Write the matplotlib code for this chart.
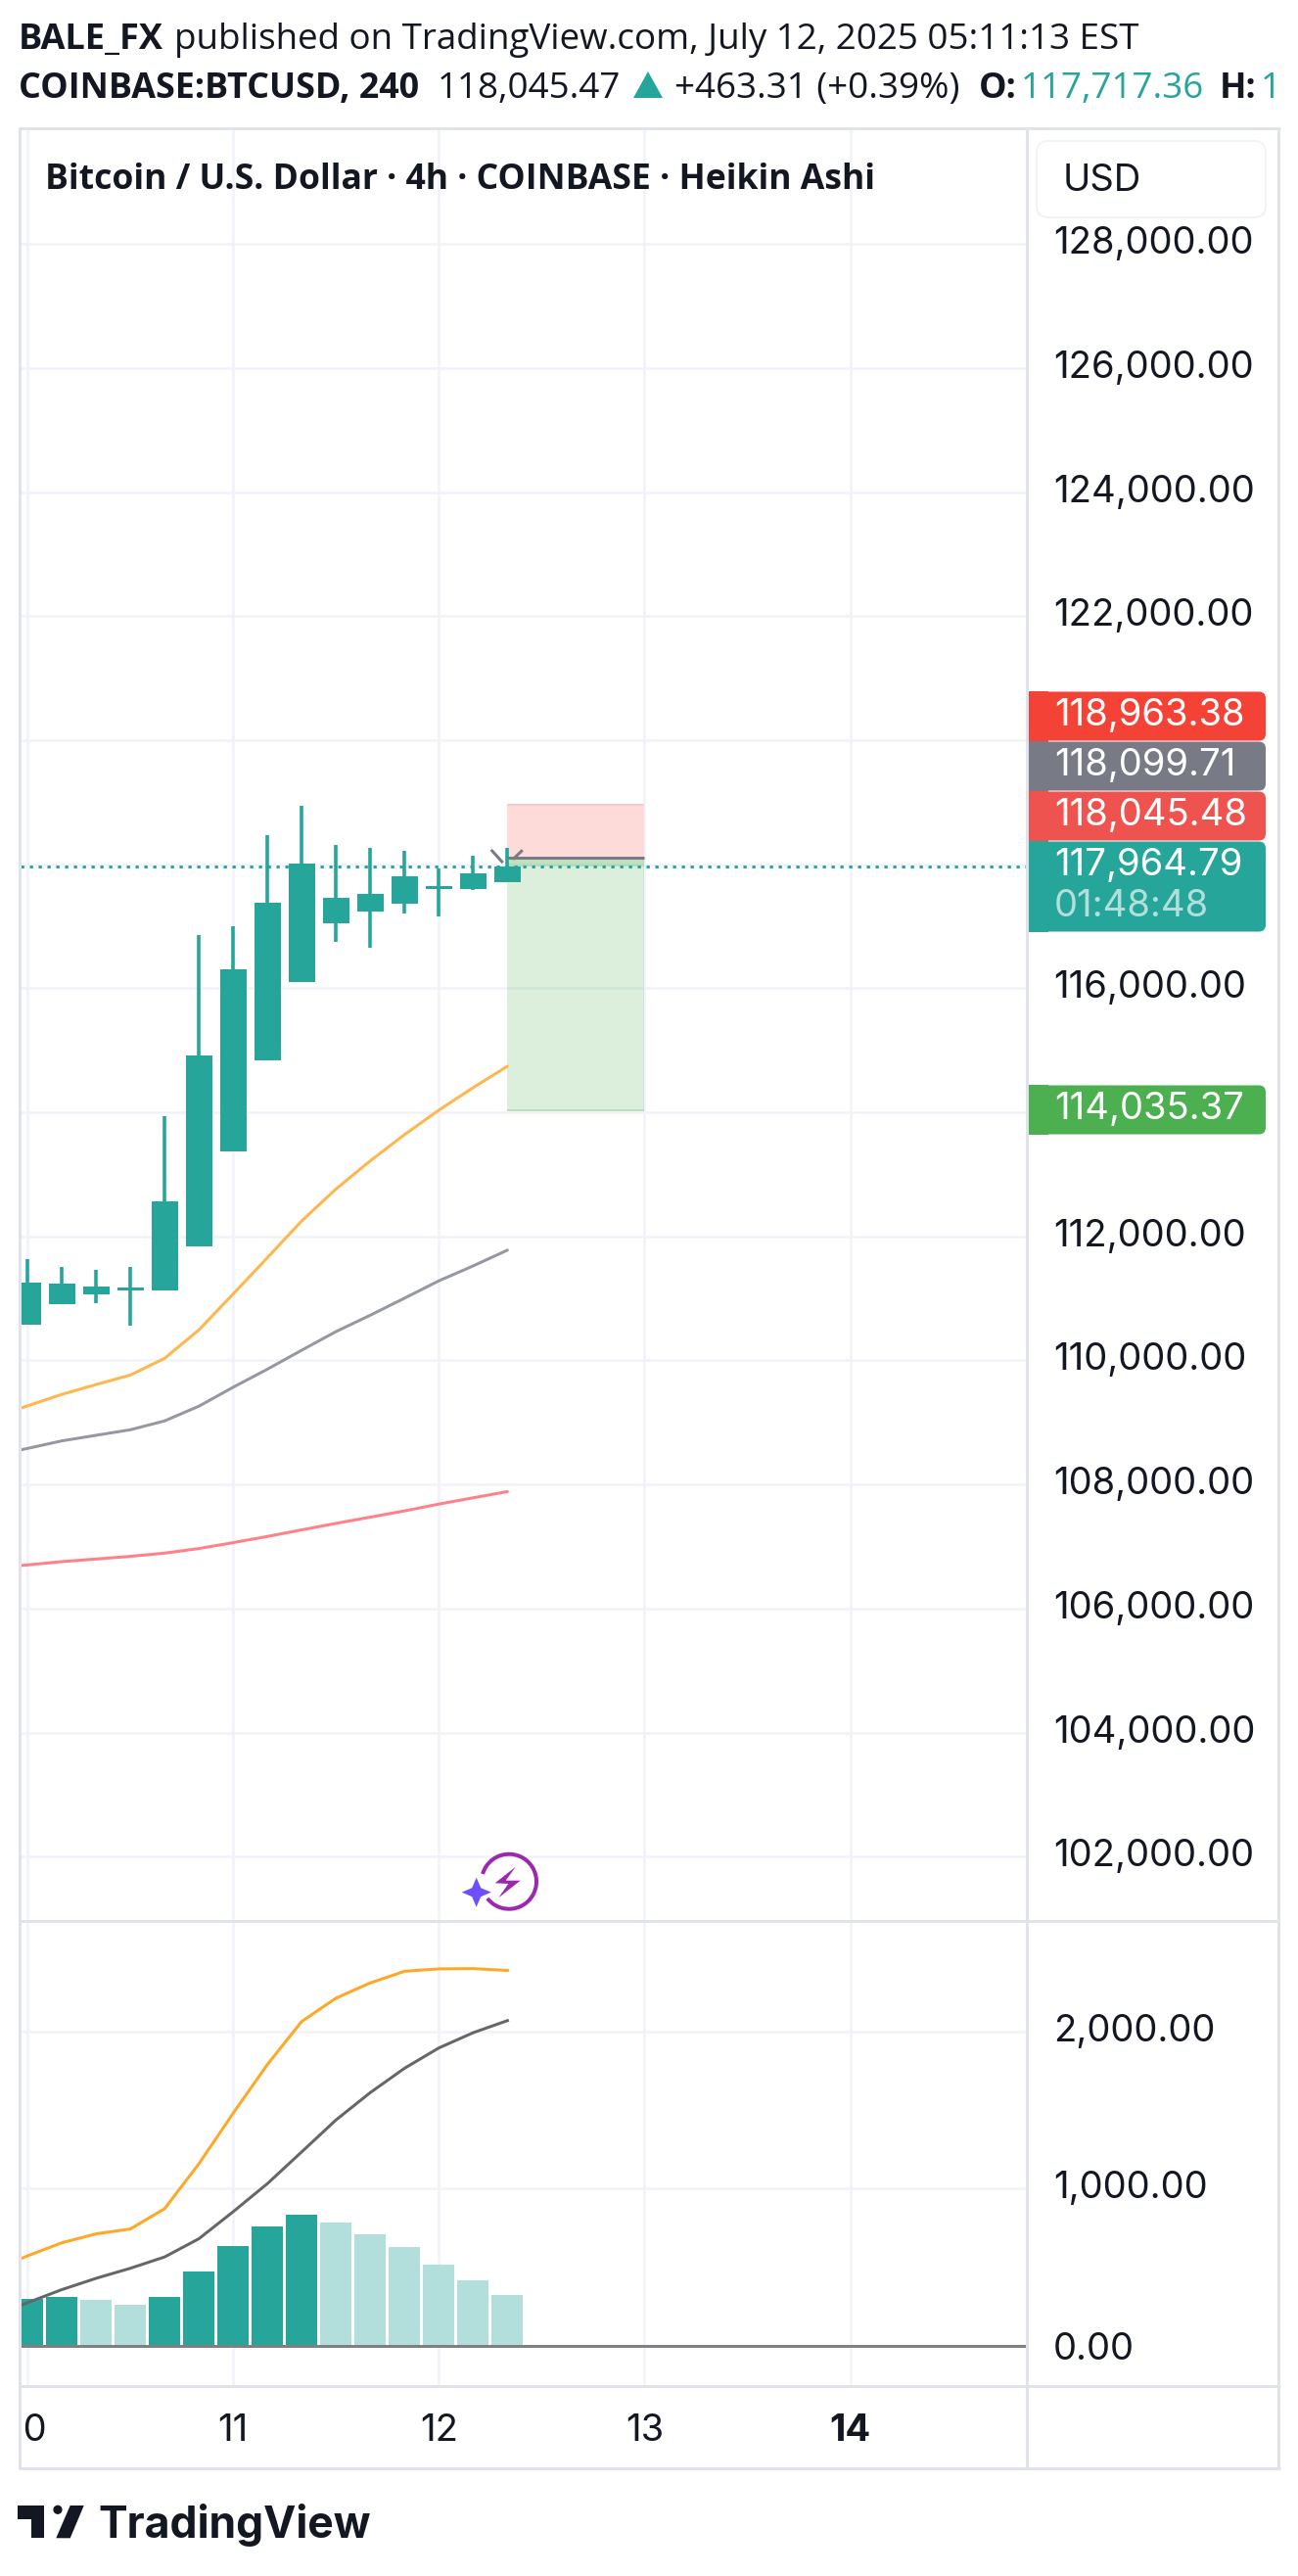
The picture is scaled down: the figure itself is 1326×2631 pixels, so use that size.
import matplotlib
matplotlib.use("Agg")
import matplotlib.pyplot as plt
import numpy as np
from matplotlib.patches import Rectangle, FancyBboxPatch, Polygon, Circle, Arc
from matplotlib.lines import Line2D

W, H = 1326, 2631
UI = "Inter"
HEAD = "Open Sans"

# ---------- data ----------
bar_index = list(range(15))
opens = [110573, 110900, 111063, 111124, 111124, 111838, 113368, 114838, 116103, 117053, 117240, 117367, 117603, 117603, 117717.36]
closes = [111251, 111233, 111190, 111173, 112564, 114917, 116309, 117385, 118003, 117464, 117513, 117809, 117652, 117857, 117964.79]
highs = [111632, 111505, 111456, 111505, 113937, 116865, 117004, 118462, 118934, 118317, 118257, 118220, 117924, 118142, 118269]
lows = [110573, 110900, 110918, 110555, 111124, 111838, 113368, 114838, 116103, 116750, 116659, 117210, 117162, 117591, 117717.36]

ma_index = list(range(-1, 15))
ma_fast = [109082, 109266, 109451, 109610, 109763, 110032, 110491, 111071, 111656, 112249, 112763, 113217, 113640, 114034, 114397, 114742]
ma_mid = [108459, 108580, 108702, 108792, 108881, 109024, 109261, 109567, 109858, 110164, 110464, 110728, 111003, 111282, 111523, 111777]
ma_slow = [106654, 106702, 106755, 106797, 106840, 106892, 106966, 107061, 107161, 107267, 107372, 107472, 107573, 107683, 107784, 107884]

macd_line = [481, 570, 653, 710, 741, 870, 1156, 1478, 1788, 2062, 2210, 2307, 2381, 2396, 2398, 2386]
signal_line = [188, 272, 355, 427, 491, 563, 679, 851, 1030, 1232, 1435, 1609, 1764, 1893, 1990, 2067]
hist_values = [296, 308, 288, 257, 308, 470, 632, 756, 832, 782, 706, 625, 513, 415, 319]
hist_strong = [True, True, False, False, True, True, True, True, True, False, False, False, False, False, False]

stop_price = 118963.38
entry_price = 118099.71
target_price = 114035.37
box_start, box_end = 14, 18

price_ticks = list(range(102000, 130000, 2000))
hidden_price_labels = [114000, 118000, 120000]   # covered by the price tags
macd_ticks = [0, 1000, 2000]
day_ticks = [0, 6, 12, 18, 24]
day_labels = ["10", "11", "12", "13", "14"]

side_labels = [("118,963.38", 706, 757, "#F44336"),
               ("118,099.71", 757, 808, "#787B86"),
               ("118,045.48", 808, 859, "#EF5350"),
               ("114,035.37", 1108, 1159, "#4CAF50")]

TEAL = "#26A69A"
LIGHT = "#B2DFDB"
INK = "#131722"
GRID = "#F0F3FA"
FRAME = "#E0E3EB"
AXIS_PT = 27.5
HEAD_PT = 26.5


def lw(px):
    return px * 72 / 100


fig = plt.figure(figsize=(W / 100, H / 100), dpi=100, facecolor="white")


def make_ax(x0, x1, y0, y1):
    ax = fig.add_axes([x0 / W, 1 - y1 / H, (x1 - x0) / W, (y1 - y0) / H])
    for s in ax.spines.values():
        s.set_visible(False)
    return ax


# pixel mapping of the chart
L, R = 21, 1048
bar0_px, bar_px = 28.1, 35.02
xlim = ((L - bar0_px) / bar_px, (R - bar0_px) / bar_px)

# ---------- price pane ----------
ax = make_ax(L, R, 131, 1961)
scale = 0.06335
ax.set_xlim(*xlim)
ax.set_ylim(116000 - (1961 - 1009.3) / scale, 116000 + (1009.3 - 131) / scale)
ax.set_axisbelow(True)
ax.grid(True, color=GRID, lw=lw(2.5))
ax.set_xticks(day_ticks)
ax.set_yticks(price_ticks)
ax.set_yticklabels(["" if p in hidden_price_labels else f"{p:,.2f}" for p in price_ticks])
ax.tick_params(axis="x", length=0, labelbottom=False)
ax.yaxis.tick_right()
ax.tick_params(axis="y", length=0, pad=lw(28), labelsize=AXIS_PT, labelcolor=INK)
for t in ax.get_yticklabels():
    t.set_family(UI)
    t.set_va("center")

w = box_end - box_start
ax.add_patch(Rectangle((box_start, entry_price), w, stop_price - entry_price, fc="#FCD9D7", ec="none", zorder=1.5, alpha=0.95))
ax.add_patch(Rectangle((box_start, target_price), w, entry_price - target_price, fc="#4CAF50", alpha=0.2, ec="none", zorder=1.5))
ax.add_patch(Rectangle((box_start, closes[-1]), w, entry_price - closes[-1], fc="#4CAF50", alpha=0.2, ec="none", zorder=1.6))
ax.plot([box_start, box_end], [stop_price, stop_price], color="#FBC9C6", lw=lw(2), zorder=1.7, solid_capstyle="butt")
ax.plot([box_start, box_end], [target_price, target_price], color="#B9E0BB", lw=lw(2), zorder=1.7, solid_capstyle="butt")
ax.plot([box_start, box_end], [entry_price, entry_price], color="#787B86", lw=lw(3), zorder=1.8, solid_capstyle="butt")

ax.plot(ma_index, ma_fast, color="#FFB74D", lw=lw(3), zorder=2, solid_capstyle="round")
ax.plot(ma_index, ma_mid, color="#9598A1", lw=lw(3), zorder=2, solid_capstyle="round")
ax.plot(ma_index, ma_slow, color="#FF8088", lw=lw(3), zorder=2, solid_capstyle="round")

ax.axhline(closes[-1], color=TEAL, lw=lw(3), ls=(0, (1.1, 1.9)), zorder=2.2)

o, c = np.array(opens), np.array(closes)
ax.vlines(bar_index, lows, highs, color=TEAL, lw=lw(3.6), zorder=3)
ax.bar(bar_index, c - o, bottom=o, width=27 / bar_px, color=TEAL, zorder=3.1)

# ---------- oscillator pane ----------
ax2 = make_ax(L, R, 1961, 2437)
s2 = 0.1605
ax2.set_xlim(*xlim)
ax2.set_ylim(-(2437 - 2395.5) / s2, (2395.5 - 1961) / s2)
ax2.set_axisbelow(True)
ax2.grid(True, color=GRID, lw=lw(2.5))
ax2.set_xticks(day_ticks)
ax2.set_yticks(macd_ticks)
ax2.set_yticklabels([f"{v:,.2f}" for v in macd_ticks])
ax2.tick_params(axis="x", length=0, labelbottom=False)
ax2.yaxis.tick_right()
ax2.tick_params(axis="y", length=0, pad=lw(28), labelsize=AXIS_PT, labelcolor=INK)
for t, v in zip(ax2.get_yticklabels(), macd_ticks):
    t.set_family(UI)
    t.set_va("center" if v else "center_baseline")
ax2.bar(bar_index, hist_values, width=32 / bar_px,
        color=[TEAL if s else LIGHT for s in hist_strong], zorder=2)
ax2.axhline(0, color="#808080", lw=lw(3), zorder=2.5)
ax2.plot(ma_index, macd_line, color="#FFA726", lw=lw(3), zorder=3)
ax2.plot(ma_index, signal_line, color="#666666", lw=lw(3), zorder=3)

# ---------- time axis ----------
ax3 = make_ax(L, R, 2437, 2521)
ax3.set_xlim(*xlim)
ax3.set_ylim(0, 1)
ax3.set_yticks([])
ax3.xaxis.tick_top()
ax3.set_xticks(day_ticks)
ax3.set_xticklabels(day_labels)
ax3.tick_params(axis="x", length=0, pad=-lw(56), labelsize=AXIS_PT, labelcolor=INK)
for t, lab in zip(ax3.get_xticklabels(), day_labels):
    t.set_family(UI)
    t.set_va("baseline")
    t.set_clip_on(True)
    t.set_clip_box(ax3.bbox)
    if lab == "14":
        t.set_fontweight("bold")

# ---------- overlay in pixels ----------
ov = fig.add_axes([0, 0, 1, 1], facecolor="none", zorder=10)
ov.set_xlim(0, W)
ov.set_ylim(H, 0)
ov.axis("off")


def hline(y, x0=19, x1=1308):
    ov.add_line(Line2D([x0, x1], [y, y], color=FRAME, lw=lw(3), solid_capstyle="butt"))


def vline(x, y0=130, y1=2522):
    ov.add_line(Line2D([x, x], [y0, y1], color=FRAME, lw=lw(3), solid_capstyle="butt"))


hline(131); hline(2521); hline(2437); hline(1961.5, x1=1306)
vline(20); vline(1049); vline(1306)

# arrow head marks next to the entry
for (xa, ya, xb, yb) in [(502.7, 869, 512.7, 880), (532.7, 869.3, 525, 876.7)]:
    ax.add_line(Line2D([xa, xb], [ya, yb], color="#787B86", lw=lw(3), transform=ov.transData, zorder=2.5))

# header
ov.text(19, 50, "BALE_FX", fontsize=26, fontweight="bold", family=HEAD, color=INK)
ov.text(178, 50, "published on TradingView.com, July 12, 2025 05:11:13 EST", fontsize=HEAD_PT, family=HEAD, color=INK)
ov.text(19, 100, "COINBASE:BTCUSD, 240", fontsize=25.8, fontweight="bold", family=HEAD, color=INK)
ov.text(447, 100, "118,045.47", fontsize=HEAD_PT, family=HEAD, color=INK)
ov.add_patch(Polygon([(647, 100), (677, 100), (662, 73)], fc=TEAL, ec="none"))
ov.text(689, 100, "+463.31 (+0.39%)", fontsize=HEAD_PT, family=HEAD, color=INK)
ov.text(1000, 100, "O:", fontsize=25.8, fontweight="bold", family=HEAD, color=INK)
ov.text(1043, 100, "117,717.36", fontsize=HEAD_PT, family=HEAD, color=TEAL)
ov.text(1246, 100, "H:", fontsize=25.8, fontweight="bold", family=HEAD, color=INK)
ov.text(1288, 100, "1", fontsize=HEAD_PT, family=HEAD, color=TEAL)
ov.text(46, 193, "Bitcoin / U.S. Dollar · 4h · COINBASE · Heikin Ashi", fontsize=25.6, fontweight="bold", family=HEAD, color=INK)

# USD box
ov.add_patch(FancyBboxPatch((1065, 150), 222, 66, boxstyle="round,pad=6,rounding_size=12", fc="white", ec=GRID, lw=lw(2)))
ov.text(1086, 195, "USD", fontsize=AXIS_PT, family=UI, color=INK)


def tag(y0, y1, color):
    ov.add_patch(FancyBboxPatch((1060, y0 + 0.5), 233, y1 - y0 - 1, boxstyle="round,pad=0,rounding_size=7", fc=color, ec="none"))
    ov.add_patch(Rectangle((1050.5, y0), 20, y1 - y0, fc=color, ec="none"))


for txt, y0, y1, col in side_labels:
    tag(y0, y1, col)
    ov.text(1077, y1 - 16, txt, fontsize=AXIS_PT, family=UI, color="white")
tag(859, 952, TEAL)
ov.text(1077, 894, f"{closes[-1]:,.2f}", fontsize=AXIS_PT, family=UI, color="white")
ov.text(1077, 936, "01:48:48", fontsize=AXIS_PT, family=UI, color="#B2DFDB")

# logo
ov.add_patch(Polygon([(18.3, 2559), (45, 2559), (45, 2592.3), (31.7, 2592.3), (31.7, 2572.7), (18.3, 2572.7)], fc=INK, ec="none"))
ov.add_patch(Circle((59, 2563.3), 4.6, fc=INK, ec="none"))
ov.add_patch(Polygon([(71.7, 2559), (85.7, 2559), (71.7, 2592.3), (57.3, 2592.3)], fc=INK, ec="none"))
ov.text(100, 2592.3, "TradingView", fontsize=32, fontweight="bold", family=UI, color=INK)

# flash icon
ov.add_patch(Arc((520, 1921.7), 56, 56, theta1=-164, theta2=142, color="#9C27B0", lw=lw(4)))
ov.add_patch(Polygon([(526.7, 1906.7), (505.7, 1923.3), (519.3, 1924), (509.3, 1938.3), (531.7, 1920.7), (516.7, 1920.7)], fc="#9C27B0", ec="none"))
cx, cy, r, q = 486.7, 1932.7, 15, 4.5
ov.add_patch(Polygon([(cx, cy - r), (cx + q, cy - q), (cx + r, cy), (cx + q, cy + q), (cx, cy + r), (cx - q, cy + q), (cx - r, cy), (cx - q, cy - q)], fc="#6F4EFF", ec="none"))

fig.savefig("out.png", dpi=100, facecolor="white")
